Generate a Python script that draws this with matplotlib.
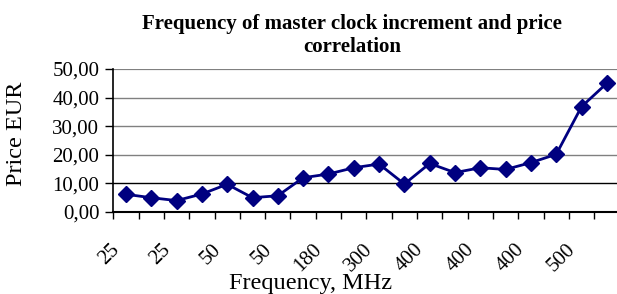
import matplotlib
matplotlib.use("Agg")
import matplotlib.pyplot as plt
import matplotlib.transforms as mtransforms
import numpy as np

title = "Frequency of master clock increment and price\ncorrelation"
x_tick_labels = ["25", "25", "50", "50", "180", "300", "400", "400", "400", "500"]
prices = [6.1, 4.9, 3.9, 6.2, 9.6, 4.9, 5.6, 11.9, 13.2, 15.4,
          16.7, 9.7, 16.9, 13.7, 15.4, 14.8, 17.2, 20.1, 36.8, 45.0]
y_ticks = [0, 10, 20, 30, 40, 50]
y_tick_labels = ["0,00", "10,00", "20,00", "30,00", "40,00", "50,00"]

plt.rcParams['font.family'] = ['Liberation Serif', 'DejaVu Serif']

W, H = 617, 294
fig = plt.figure(figsize=(W/100, H/100), dpi=100)
ax = fig.add_axes([113.3/W, 1-211.7/H, (619.5-113.3)/W, (211.7-69)/H])

n = len(prices)
x = np.arange(n)
ax.plot(x, prices, color="#000080", lw=2, marker="D", markersize=8.5,
        markerfacecolor="#000080", markeredgecolor="#000080", zorder=3, clip_on=False)

ax.set_xlim(-0.5, n - 0.5)
ax.set_ylim(0, 50)

for v in y_ticks[1:]:
    ax.axhline(v, color="#000000" if v == 10 else "#808080",
               lw=1.6 if v == 50 else 1.0, zorder=1)

ax.set_yticks(y_ticks)
ax.set_yticklabels(y_tick_labels, fontsize=15)
ax.tick_params(axis='y', direction='out', length=6, width=1, pad=4)

ax.set_xticks(x[::2])
ax.set_xticklabels(x_tick_labels, fontsize=15, rotation=45, ha='right', va='center',
                   rotation_mode='anchor')
ax.tick_params(axis='x', which='major', length=0, pad=0)
ax.set_xticks(np.arange(-0.5, n, 1.0), minor=True)
ax.tick_params(axis='x', which='minor', direction='out', length=5, width=1)
offset = mtransforms.ScaledTranslation(-9/100, -35/100, fig.dpi_scale_trans)
for lbl in ax.get_xticklabels():
    lbl.set_transform(lbl.get_transform() + offset)

for s in ['top', 'right']:
    ax.spines[s].set_visible(False)
ax.spines['left'].set_linewidth(1.2)
ax.spines['bottom'].set_linewidth(1.5)

fig.text(352/W, 1-13.5/H, title, ha='center', va='top', fontsize=15,
         fontweight='bold', linespacing=1.2)
fig.text(311/W, 1-289/H, "Frequency, MHz", ha='center', va='baseline', fontsize=17.5)
fig.text(17/W, 1-133.5/H, "Price EUR", ha='center', va='center', rotation=90, fontsize=17.5)

fig.savefig("out.png", dpi=100)
